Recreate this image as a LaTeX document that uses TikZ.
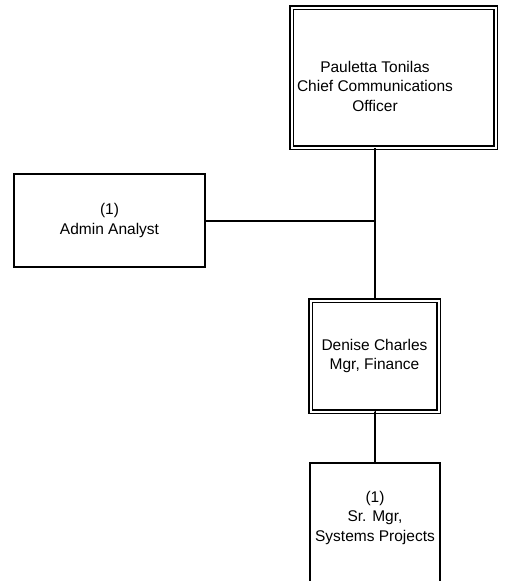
\documentclass[tikz,border=0pt]{standalone}
\usepackage{fontspec}
\setmainfont{Liberation Sans}
\usepackage{tikz}
\usetikzlibrary{positioning,calc}

\tikzset{
  orgbox/.style={draw, line width=2pt, align=center, inner sep=0pt,
    font=\fontsize{15.5}{19.5}\selectfont},
  headbox/.style={orgbox, line width=1.5pt, double, double distance=2pt},
  boxtext/.style={align=center, inner sep=0pt, font=\fontsize{15.5}{19.5}\selectfont},
  conn/.style={line width=2pt}
}

\begin{document}
\begin{tikzpicture}[x=1pt,y=-1pt]
  \useasboundingbox (0,0) rectangle (504,581); % 図全体の大きさ
  \node[headbox, minimum width=204pt, minimum height=140pt,
    label={[boxtext, xshift=-18.5pt, yshift=-8.5pt]center:{Pauletta Tonilas\\Chief Communications\\Officer}}]
    (cco) at (393.5,77.5) {}; % 最上位（二重枠、文字は左寄り）
  \node[orgbox, minimum width=191pt, minimum height=93pt] (admin) at (109.5,220.5)
    {(1)\\Admin Analyst}; % 左側のスタッフ
  \node[headbox, minimum width=128pt, minimum height=111pt] (fin) at (374.5,356)
    {Denise Charles\\Mgr, Finance}; % 中間の管理者（二重枠）
  \node[orgbox, minimum width=130pt, inner ysep=28pt, text depth=90pt, anchor=north] (srmgr) at (375,462)
    {(1)\\Sr. Mgr,\\Systems Projects}; % 下端で切れている箱
  \draw[conn] (fin.north) -- (fin.north |- cco.south); % 縦の接続線（上）
  \draw[conn] (admin.east) -- (admin.east -| fin.north); % 横の接続線
  \draw[conn] (fin.south) -- (fin.south -| srmgr.north) -- (srmgr.north); % 縦の接続線（下）
\end{tikzpicture}
\end{document}
